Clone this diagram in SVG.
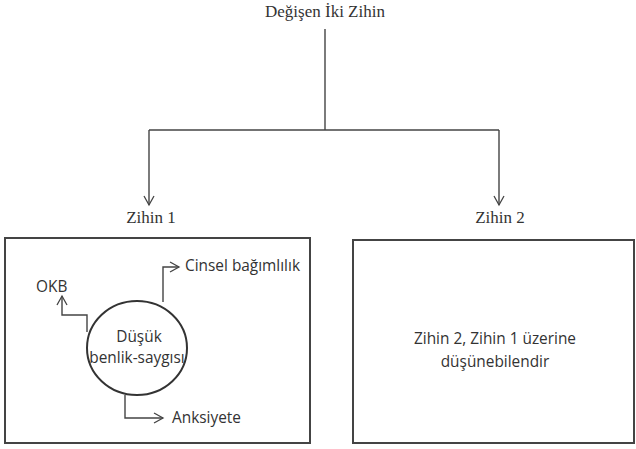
<svg xmlns="http://www.w3.org/2000/svg" width="636" height="449" viewBox="0 0 636 449">
<defs>
<marker id="arr" markerWidth="12" markerHeight="12" refX="10" refY="6" orient="auto" markerUnits="userSpaceOnUse">
<path d="M1,1 L10,6 L1,11" fill="none" stroke="#444" stroke-width="1.3"/>
</marker>
</defs>
<style>
.serif{font-family:"Liberation Serif","Times New Roman",serif;font-size:17px;fill:#333}
.sans{font-family:"Open Sans","Noto Sans",sans-serif;font-size:15.4px;fill:#333}
.box{fill:none;stroke:#444;stroke-width:2}
.ln{fill:none;stroke:#444;stroke-width:1.4}
</style>
<rect width="636" height="449" fill="#fff"/>
<g id="title"><text class="serif" x="325" y="17" text-anchor="middle">Değişen İki Zihin</text></g>
<g id="zihin1-label"><text class="serif" x="151" y="223" text-anchor="middle">Zihin 1</text></g>
<g id="zihin2-label"><text class="serif" x="500" y="223" text-anchor="middle">Zihin 2</text></g>
<g id="zihin1-box"><rect class="box" x="5" y="238" width="305" height="205"/></g>
<g id="zihin2-box"><rect class="box" x="353" y="240" width="281" height="203"/>
<text class="sans" x="495" y="344" text-anchor="middle">Zihin 2, Zihin 1 üzerine</text>
<text class="sans" x="495" y="367" text-anchor="middle">düşünebilendir</text></g>
<g id="ellipse"><ellipse cx="137" cy="348" rx="50" ry="47" fill="#fff" stroke="#333" stroke-width="2"/>
<text class="sans" x="139" y="342" text-anchor="middle" font-size="14.5">Düşük</text>
<text class="sans" x="137" y="363" text-anchor="middle" font-size="13">benlik-saygısı</text></g>
<g id="okb"><text class="sans" x="36" y="292" font-size="17">OKB</text></g>
<g id="cinsel"><text class="sans" x="185" y="271">Cinsel bağımlılık</text></g>
<g id="anksiyete"><text class="sans" x="172" y="423">Anksiyete</text></g>
<g id="connectors">
<path class="ln" d="M325,29 V130"/>
<path class="ln" d="M149,130 H499"/>
<path class="ln" d="M149,130 V205" marker-end="url(#arr)"/>
<path class="ln" d="M499,130 V205" marker-end="url(#arr)"/>
<path class="ln" d="M87,332 V315 H62 V296" marker-end="url(#arr)"/>
<path class="ln" d="M163,302 V267 H179" marker-end="url(#arr)"/>
<path class="ln" d="M125,395 V418 H163" marker-end="url(#arr)"/>
</g>
</svg>
